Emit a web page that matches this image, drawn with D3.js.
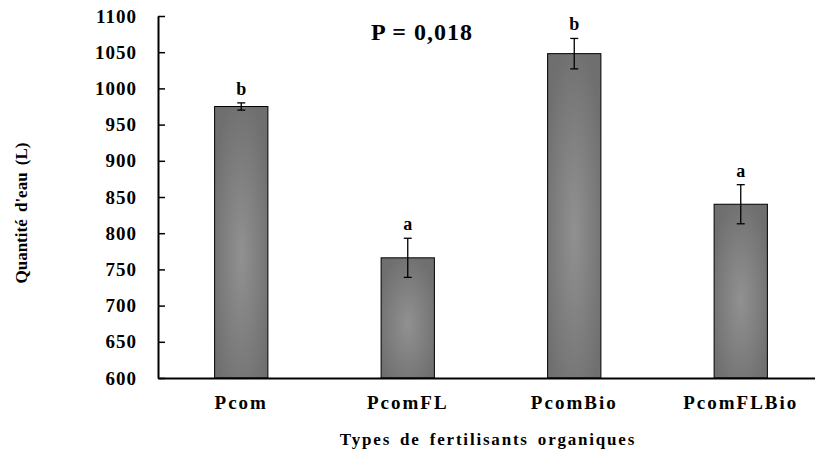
<!DOCTYPE html>
<html lang="fr">
<head>
  <meta charset="utf-8">
  <title>Quantité d'eau</title>
  <style>
    body { margin: 0; background: #fff; }
  </style>
</head>
<body>
  <div id="chart"></div>
  <script src="https://d3js.org/d3.v7.min.js"></script>
  <script>
    // Data
    var categories = ["Pcom", "PcomFL", "PcomBio", "PcomFLBio"];
    var values = [975, 766, 1048, 840];
    var errors = [5, 27, 21, 27];
    var letters = ["b", "a", "b", "a"];
    var yTicks = [600, 650, 700, 750, 800, 850, 900, 950, 1000, 1050, 1100];

    var FONT = "'Liberation Serif', 'Times New Roman', Times, serif";
    var width = 815, height = 451;
    var margin = { top: 16, left: 158 };
    var axisBottomY = 378;

    var svg = d3.select("#chart").append("svg")
      .attr("width", width)
      .attr("height", height)
      .style("font-family", FONT)
      .style("font-weight", "bold");

    // bar shading: lighter in the middle, darker toward the edges
    var grad = svg.append("defs").append("radialGradient")
      .attr("id", "barFill")
      .attr("cx", "50%").attr("cy", "55%").attr("r", "60%");
    grad.append("stop").attr("offset", "0%").attr("stop-color", "#919191");
    grad.append("stop").attr("offset", "100%").attr("stop-color", "#6f6f6f");

    var xScale = d3.scaleBand()
      .domain(categories)
      .range([margin.left, 824])
      .paddingInner(0.68)
      .paddingOuter(0.34);

    var yScale = d3.scaleLinear()
      .domain([600, 1100])
      .range([axisBottomY, margin.top]);

    function cx(i) { return xScale(categories[i]) + xScale.bandwidth() / 2; }

    // bars
    svg.selectAll(".bar")
      .data(values)
      .enter().append("rect")
      .attr("class", "bar")
      .attr("x", function (d, i) { return xScale(categories[i]); })
      .attr("y", function (d) { return yScale(d); })
      .attr("width", xScale.bandwidth())
      .attr("height", function (d) { return yScale(600) - yScale(d); })
      .attr("fill", "url(#barFill)")
      .attr("stroke", "#000")
      .attr("stroke-width", 1);

    // error bars
    var eb = svg.selectAll(".err")
      .data(values)
      .enter().append("g")
      .attr("class", "err")
      .attr("stroke", "#000")
      .attr("stroke-width", 1.3);
    eb.append("line")
      .attr("x1", function (d, i) { return cx(i); })
      .attr("x2", function (d, i) { return cx(i); })
      .attr("y1", function (d, i) { return yScale(d + errors[i]); })
      .attr("y2", function (d, i) { return yScale(d - errors[i]); });
    [1, -1].forEach(function (s) {
      eb.append("line")
        .attr("x1", function (d, i) { return cx(i) - 4; })
        .attr("x2", function (d, i) { return cx(i) + 4; })
        .attr("y1", function (d, i) { return yScale(d + s * errors[i]); })
        .attr("y2", function (d, i) { return yScale(d + s * errors[i]); });
    });

    // significance letters
    svg.selectAll(".letter")
      .data(values)
      .enter().append("text")
      .attr("class", "letter")
      .attr("x", function (d, i) { return cx(i); })
      .attr("y", function (d, i) { return yScale(d + errors[i]) - 8; })
      .attr("text-anchor", "middle")
      .style("font-size", "18px")
      .text(function (d, i) { return letters[i]; });

    // y axis
    var yAxis = d3.axisLeft(yScale)
      .tickValues(yTicks)
      .tickFormat(d3.format("d"))
      .tickSizeInner(-7)
      .tickSizeOuter(0)
      .tickPadding(21);
    var gy = svg.append("g")
      .attr("transform", "translate(" + margin.left + ",0)")
      .call(yAxis)
      .attr("font-family", null)
      .attr("font-size", null);
    gy.select(".domain").attr("stroke-width", 2);
    gy.selectAll(".tick line").attr("stroke-width", 1.5);
    gy.selectAll("text")
      .style("font-family", FONT)
      .style("font-size", "19px")
      .style("letter-spacing", "1px");

    // x axis
    var xAxis = d3.axisBottom(xScale)
      .tickSize(0)
      .tickPadding(18);
    var gx = svg.append("g")
      .attr("transform", "translate(0," + yScale(600) + ")")
      .call(xAxis)
      .attr("font-family", null)
      .attr("font-size", null);
    gx.select(".domain").attr("stroke-width", 2);
    gx.selectAll("text")
      .style("font-family", FONT)
      .style("font-size", "19px")
      .style("letter-spacing", "2px");

    // axis titles
    svg.append("text")
      .attr("transform", "translate(27,213) rotate(-90)")
      .attr("text-anchor", "middle")
      .style("font-size", "17px")
      .style("word-spacing", "3px")
      .text("Quantité d'eau (L)");

    svg.append("text")
      .attr("x", 488)
      .attr("y", 445)
      .attr("text-anchor", "middle")
      .style("font-size", "17px")
      .style("letter-spacing", "1.8px")
      .style("word-spacing", "3px")
      .text("Types de fertilisants organiques");

    // p-value
    svg.append("text")
      .attr("x", 422)
      .attr("y", 40)
      .attr("text-anchor", "middle")
      .style("font-size", "24px")
      .style("letter-spacing", "1px")
      .text("P = 0,018");
  </script>
</body>
</html>
